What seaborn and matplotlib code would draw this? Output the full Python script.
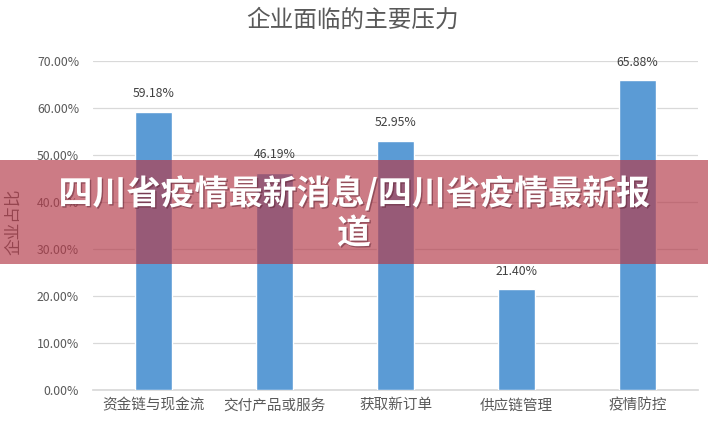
import matplotlib
matplotlib.use("Agg")
import matplotlib.pyplot as plt
import matplotlib.patheffects as pe
import pandas as pd
import seaborn as sns

# data
categories = ["资金链与现金流", "交付产品或服务", "获取新订单", "供应链管理", "疫情防控"]
shares = [59.18, 46.19, 52.95, 21.40, 65.88]
yticks = [0, 10, 20, 30, 40, 50, 60, 70]

title = "企业面临的主要压力"
ylabel = "企业占比"
banner = "四川省疫情最新消息/四川省疫情最新报\n道"

sns.set_theme(style="white")
plt.rcParams["font.family"] = ["Noto Sans CJK SC", "DejaVu Sans"]

grey = "#595959"
df = pd.DataFrame({"cat": categories, "share": shares})

fig = plt.figure(figsize=(7.08, 4.25), dpi=100)
ax = fig.add_axes([93 / 708, 1 - 390 / 425, 605 / 708, 329 / 425])

sns.barplot(data=df, x="cat", y="share", color="#5B9BD5", width=0.31,
            saturation=1, ax=ax, zorder=3)

ax.set_ylim(0, 70)
ax.set_xlim(-0.5, 4.5)
ax.set_yticks(yticks)
ax.set_yticklabels([f"{v:.2f}%" for v in yticks], fontsize=8.8, color=grey)
ax.tick_params(axis="x", labelsize=10.5, colors=grey, length=0, pad=6)
ax.tick_params(axis="y", length=0, pad=10)
ax.grid(axis="y", color="#D9D9D9", linewidth=0.9, zorder=0)
for s in ["top", "right", "left"]:
    ax.spines[s].set_visible(False)
ax.spines["bottom"].set_color("#D9D9D9")
ax.set_xlabel("")
ax.set_ylabel("")

for i, v in enumerate(shares):
    ax.text(i, v + 2.5, f"{v:.2f}%", ha="center", va="bottom",
            fontsize=8.8, color="#404040")

fig.text(353 / 708, 1 - 20 / 425, title, ha="center", va="center",
         fontsize=17, color=grey)
fig.text(14 / 708, 1 - 222 / 425, ylabel, ha="center", va="center",
         rotation=90, fontsize=12, color=grey)

# red overlay band with headline
fig.patches.append(plt.Rectangle((0, 1 - 264 / 425), 1, 104 / 425,
                                 transform=fig.transFigure,
                                 facecolor="#B43C4B", edgecolor="none",
                                 linewidth=0, alpha=0.68, zorder=10))
fig.text(354 / 708, 1 - 213 / 425, banner, ha="center", va="center",
         fontsize=24.5, fontweight="bold", color="white", linespacing=1.15,
         zorder=11,
         path_effects=[pe.withSimplePatchShadow(offset=(1, -1),
                                                shadow_rgbFace="#5a2030",
                                                alpha=0.5)])

fig.savefig("out.png", dpi=100)
